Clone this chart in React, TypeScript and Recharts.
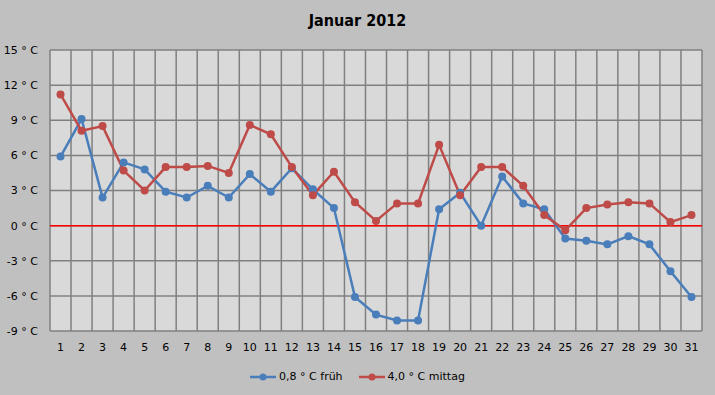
import { CartesianGrid, Line, LineChart, ReferenceLine, XAxis, YAxis } from 'recharts';

const days = [1, 2, 3, 4, 5, 6, 7, 8, 9, 10, 11, 12, 13, 14, 15, 16, 17, 18, 19, 20, 21, 22, 23, 24, 25, 26, 27, 28, 29, 30, 31];
const frueh = [5.9, 9.1, 2.4, 5.4, 4.8, 2.9, 2.4, 3.4, 2.4, 4.4, 2.9, 4.9, 3.1, 1.5, -6.1, -7.6, -8.1, -8.1, 1.4, 2.8, 0.0, 4.2, 1.9, 1.4, -1.1, -1.3, -1.6, -0.9, -1.6, -3.9, -6.1];
const mittag = [11.2, 8.1, 8.5, 4.7, 3.0, 5.0, 5.0, 5.1, 4.5, 8.6, 7.8, 5.0, 2.6, 4.6, 2.0, 0.4, 1.9, 1.9, 6.9, 2.6, 5.0, 5.0, 3.4, 0.9, -0.4, 1.5, 1.8, 2.0, 1.9, 0.3, 0.9];
const yTicks = [-9, -6, -3, 0, 3, 6, 9, 12, 15];

const data = days.map((d, i) => ({ day: d, frueh: frueh[i], mittag: mittag[i] }));

const BLUE = '#4a7ebb';
const RED = '#be4b48';

const LegendContent = () => (
  <div style={{ display: 'flex', justifyContent: 'center', gap: 16, fontSize: 11, fontFamily: 'DejaVu Sans, sans-serif', color: '#000' }}>
    {[{ c: BLUE, t: '0,8 ° C früh' }, { c: RED, t: '4,0 ° C mittag' }].map((it) => (
      <span key={it.t} style={{ display: 'flex', alignItems: 'center' }}>
        <svg width={26} height={10} style={{ marginRight: 3 }}>
          <line x1={0} y1={5} x2={26} y2={5} stroke={it.c} strokeWidth={2.5} />
          <circle cx={13} cy={5} r={3.5} fill={it.c} />
        </svg>
        {it.t}
      </span>
    ))}
  </div>
);

const App = () => {
  return (
    <div style={{ position: 'absolute', left: 0, top: 0, width: 715, height: 395, background: '#c0c0c0' }}>
      <div style={{ position: 'absolute', top: 11, width: 715, textAlign: 'center', fontFamily: 'DejaVu Sans Condensed, DejaVu Sans, sans-serif', fontWeight: 'bold', fontSize: 16, color: '#000' }}>
        Januar 2012
      </div>
      <LineChart width={715} height={395} data={data} margin={{ top: 50, right: 13, bottom: 34, left: 0 }}>
        <CartesianGrid
          fill="#d9d9d9"
          stroke="#808080"
          strokeWidth={1.5}
          verticalCoordinatesGenerator={({ offset }: any) =>
            days.concat([32]).map((_, i) => offset.left + (i * offset.width) / days.length)
          }
        />
        <XAxis
          dataKey="day"
          type="number"
          domain={[0.5, 31.5]}
          ticks={days}
          interval={0}
          height={30}
          axisLine={false}
          tickLine={false}
          tickSize={0}
          tickMargin={12}
          tick={{ fill: '#000', fontSize: 11, fontFamily: 'DejaVu Sans, sans-serif' }}
        />
        <YAxis
          width={50}
          domain={[-9, 15]}
          ticks={yTicks}
          interval={0}
          axisLine={false}
          tickLine={false}
          tickSize={0}
          tickMargin={12}
          tickFormatter={(v: number) => `${v} ° C`}
          tick={{ fill: '#000', fontSize: 11, fontFamily: 'DejaVu Sans, sans-serif' }}
        />
        <ReferenceLine y={0} stroke="#ff0000" strokeWidth={1.5} />
        <Line dataKey="frueh" stroke={BLUE} strokeWidth={2.5} dot={{ r: 4, fill: BLUE, stroke: BLUE, strokeWidth: 0 }} isAnimationActive={false} />
        <Line dataKey="mittag" stroke={RED} strokeWidth={2.5} dot={{ r: 4, fill: RED, stroke: RED, strokeWidth: 0 }} isAnimationActive={false} />
      </LineChart>
      <div style={{ position: 'absolute', top: 370, width: 715 }}>
        <LegendContent />
      </div>
    </div>
  );
};

export default App;
